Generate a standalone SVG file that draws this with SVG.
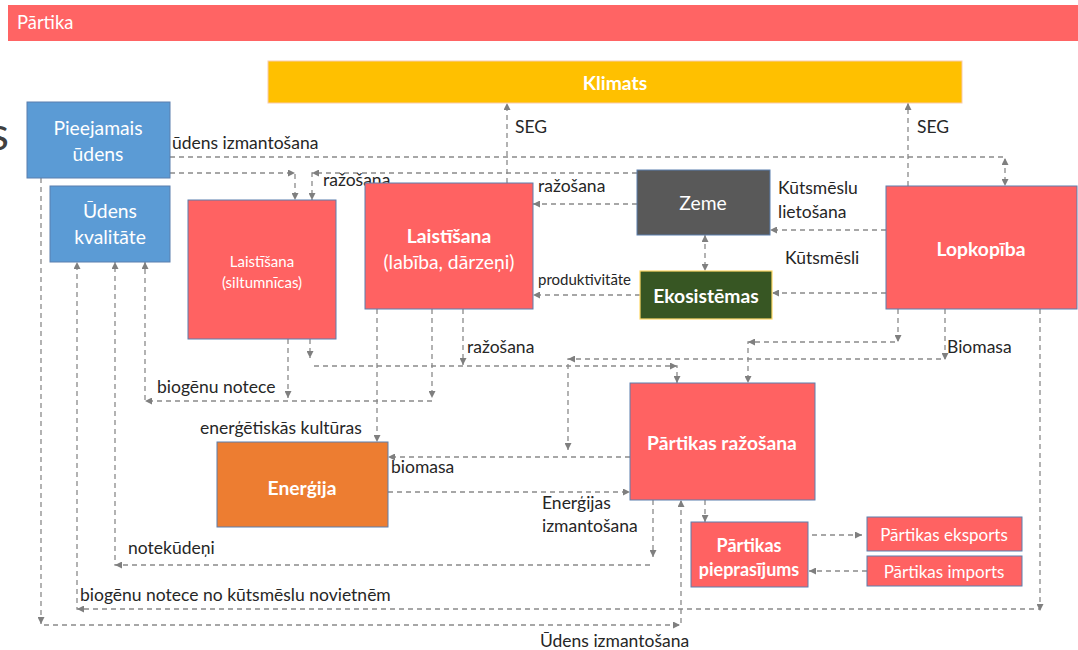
<svg xmlns="http://www.w3.org/2000/svg" width="1078" height="650" viewBox="0 0 1078 650">
  <style>
    text { font-family: Lato, "Liberation Sans", sans-serif; }
    .lbl { font-size: 17.5px; fill: #262626; }
    .sm { font-size: 15px; fill: #262626; }
    .nt { fill: #ffffff; font-size: 19.3px; text-anchor: middle; }
    .b { font-weight: bold; }
    .box { stroke: #5b7fae; stroke-width: 1; }
    .red { fill: #ff6262; }
    .blue { fill: #5b9bd5; }
    .con path { fill: none; stroke: #8a8a8a; stroke-width: 1.3; stroke-dasharray: 5 4; }
    .con path.arr { marker-end: url(#ah); }
    .con path.both { marker-start: url(#ah); marker-end: url(#ah); }
    .tips path { fill: none; stroke: none; marker-end: url(#ah); }
  </style>
  <defs>
    <marker id="ah" viewBox="0 0 10 10" refX="10" refY="5" markerWidth="7" markerHeight="7" markerUnits="userSpaceOnUse" orient="auto-start-reverse">
      <path d="M0,0 L10,5 L0,10 z" fill="#7f7f7f"/>
    </marker>
  </defs>

  <rect width="1078" height="650" fill="#ffffff"/>

  <!-- title banner -->
  <g id="banner">
    <rect x="8" y="5" width="1070" height="36" fill="#ff6464"/>
    <text x="17" y="29" style="font-size:18.4px;fill:#ffffff">Pārtika</text>
  </g>
  <text x="9" y="150" text-anchor="end" style="font-size:46px;fill:#404040">s</text>

  <!-- connectors -->
  <g id="connectors" class="con">
    <path class="arr" d="M170,157 H1005 V186"/>
    <path class="arr" d="M170,173 H295 V200"/>
    <path class="arr" d="M637,173 H312 V200"/>
    <path class="arr" d="M507,183 V103"/>
    <path class="arr" d="M908,186 V103"/>
    <path class="arr" d="M637,204 H533"/>
    <path class="both" d="M705,235 V271"/>
    <path class="arr" d="M640,295 H533"/>
    <path class="arr" d="M886,230 H770"/>
    <path class="arr" d="M886,293 H772"/>
    <path class="arr" d="M898,309 V342 H748 V383"/>
    <path class="arr" d="M945,309 V359 H568 V450"/>
    <path class="arr" d="M630,457 H388"/>
    <path class="arr" d="M310,339 V358"/>
    <path class="arr" d="M314,366 H677 V383"/>
    <path class="arr" d="M463,309 V365"/>
    <path class="arr" d="M377,309 V442"/>
    <path class="arr" d="M432,309 V398"/>
    <path class="arr" d="M288,339 V398"/>
    <path class="arr" d="M432,401 H145 V262"/>
    <path class="arr" d="M653,500 V557"/>
    <path class="arr" d="M650,565 H115 V262"/>
    <path class="arr" d="M1040,309 V609 H77 V262"/>
    <path class="arr" d="M41,178 V625 H681 V500"/>
    <path class="arr" d="M388,492 H630"/>
    <path class="arr" d="M705,500 V522"/>
    <path class="arr" d="M812,535 H862"/>
    <path class="arr" d="M867,571 H809"/>
  </g>

  <!-- arrowheads sitting on connector bends -->
  <g id="bend-tips" class="tips">
    <path d="M1005,168 V158"/>
    <path d="M280,173 H295"/>
    <path d="M322,173 H312"/>
    <path d="M898,330 V342"/>
    <path d="M758,342 H748"/>
    <path d="M945,350 V360"/>
    <path d="M578,359 H568"/>
    <path d="M667,366 H677"/>
    <path d="M155,401 H145"/>
    <path d="M125,565 H115"/>
    <path d="M1040,600 V611"/>
    <path d="M87,609 H77"/>
    <path d="M41,612 V624"/>
    <path d="M670,625 H680"/>
  </g>

  <!-- connector labels -->
  <g id="labels">
    <text class="lbl" x="172" y="149">ūdens izmantošana</text>
    <text class="lbl" x="323" y="186">ražošana</text>
    <text class="lbl" x="515" y="133">SEG</text>
    <text class="lbl" x="917" y="133">SEG</text>
    <text class="lbl" x="538" y="192">ražošana</text>
    <text class="lbl" x="778" y="194">Kūtsmēslu</text>
    <text class="lbl" x="778" y="218">lietošana</text>
    <text class="lbl" x="785" y="264">Kūtsmēsli</text>
    <text class="sm" x="538" y="285">produktivitāte</text>
    <text class="lbl" x="467" y="353">ražošana</text>
    <text class="lbl" x="947" y="353">Biomasa</text>
    <text class="lbl" x="157" y="393">biogēnu notece</text>
    <text class="lbl" x="200" y="434">enerģētiskās kultūras</text>
    <text class="lbl" x="391" y="473">biomasa</text>
    <text class="lbl" x="542" y="509">Enerģijas</text>
    <text class="lbl" x="542" y="532">izmantošana</text>
    <text class="lbl" x="128" y="554">notekūdeņi</text>
    <text class="lbl" x="80" y="601">biogēnu notece no kūtsmēslu novietnēm</text>
    <text class="lbl" x="540" y="647">Ūdens izmantošana</text>
  </g>

  <!-- nodes -->
  <g id="klimats">
    <rect x="268" y="61" width="694" height="42" fill="#ffc000" stroke="#f8cbad" stroke-width="1"/>
    <text class="nt b" x="615" y="90">Klimats</text>
  </g>
  <g id="pieejamais-udens">
    <rect class="box blue" x="27" y="102" width="143" height="76"/>
    <text class="nt" x="98" y="135">Pieejamais</text>
    <text class="nt" x="98" y="161">ūdens</text>
  </g>
  <g id="udens-kvalitate">
    <rect class="box blue" x="50" y="186" width="120" height="76"/>
    <text class="nt" x="110" y="218">Ūdens</text>
    <text class="nt" x="110" y="244">kvalitāte</text>
  </g>
  <g id="laistisana-siltumnicas">
    <rect class="box red" x="188" y="200" width="148" height="139"/>
    <text class="nt" x="262" y="267" style="font-size:15px">Laistīšana</text>
    <text class="nt" x="262" y="288" style="font-size:15px">(siltumnīcas)</text>
  </g>
  <g id="laistisana-labiba">
    <rect class="box red" x="365" y="183" width="168" height="126"/>
    <text class="nt b" x="449" y="243">Laistīšana</text>
    <text class="nt" x="449" y="269">(labība, dārzeņi)</text>
  </g>
  <g id="zeme">
    <rect class="box" x="637" y="170" width="133" height="65" fill="#595959"/>
    <text class="nt" x="703" y="210">Zeme</text>
  </g>
  <g id="ekosistemas">
    <rect x="640" y="271" width="132" height="48" fill="#375623" stroke="#ffd966" stroke-width="1.2"/>
    <text class="nt b" x="706" y="303">Ekosistēmas</text>
  </g>
  <g id="lopkopiba">
    <rect class="box red" x="886" y="186" width="191" height="123"/>
    <text class="nt b" x="981" y="256">Lopkopība</text>
  </g>
  <g id="partikas-razosana">
    <rect class="box red" x="630" y="383" width="185" height="117"/>
    <text class="nt b" x="722" y="450">Pārtikas ražošana</text>
  </g>
  <g id="energija">
    <rect class="box" x="217" y="442" width="171" height="85" fill="#ed7d31"/>
    <text class="nt b" x="302" y="495">Enerģija</text>
  </g>
  <g id="partikas-pieprasijums">
    <rect class="box red" x="691" y="522" width="117" height="65"/>
    <text class="nt b" x="749" y="552" style="font-size:18px">Pārtikas</text>
    <text class="nt b" x="749" y="576" style="font-size:18px">pieprasījums</text>
  </g>
  <g id="partikas-eksports">
    <rect class="box red" x="867" y="517" width="155" height="34"/>
    <text class="nt" x="944" y="541" style="font-size:17px">Pārtikas eksports</text>
  </g>
  <g id="partikas-imports">
    <rect class="box red" x="867" y="556" width="155" height="30"/>
    <text class="nt" x="944" y="578" style="font-size:17px">Pārtikas imports</text>
  </g>
</svg>
